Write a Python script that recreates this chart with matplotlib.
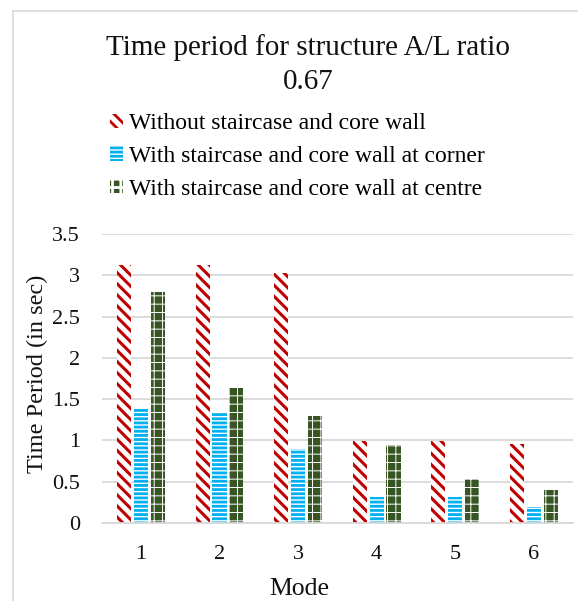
import matplotlib
matplotlib.use("Agg")
import matplotlib.pyplot as plt
from matplotlib.lines import Line2D
import numpy as np

modes = ["1", "2", "3", "4", "5", "6"]
without_core = [3.12, 3.12, 3.03, 0.99, 0.99, 0.96]
core_corner = [1.39, 1.33, 0.90, 0.32, 0.32, 0.19]
core_centre = [2.80, 1.63, 1.30, 0.94, 0.53, 0.40]
series_names = ["Without staircase and core wall",
                "With staircase and core wall at corner",
                "With staircase and core wall at centre"]
y_ticks = [0, 0.5, 1, 1.5, 2, 2.5, 3, 3.5]

plt.rcParams['font.family'] = ['Liberation Serif', 'DejaVu Serif']
plt.rcParams['hatch.linewidth'] = 2.0

W, H = 578, 601
fig = plt.figure(figsize=(W / 100, H / 100), dpi=100)
# axes box in pixels: x 101.7..573, y 234..523 (from top)
ax = fig.add_axes([101.7 / W, 1 - 523 / H, (573 - 101.7) / W, (523 - 234) / H])

x = np.arange(len(modes))
w = 0.18
step = 0.215

b1 = ax.bar(x - step, without_core, w, facecolor='white', edgecolor='#c00000',
            hatch='\\' * 3, linewidth=0, label=series_names[0])
b2 = ax.bar(x, core_corner, w, facecolor='white', edgecolor='#00b0f0',
            hatch='----', linewidth=0, label=series_names[1])
b3 = ax.bar(x + step, core_centre, w, facecolor='#375623', edgecolor='white',
            hatch='++', linewidth=0, label=series_names[2])
for b in b1:
    b.set_hatch_linewidth(2.2)
for b in b2:
    b.set_hatch_linewidth(2.0)
for b in b3:
    b.set_hatch_linewidth(0.7)

ax.set_ylim(0, 3.5)
ax.set_xlim(-0.5, len(modes) - 0.5)
ax.set_yticks(y_ticks)
ax.set_yticklabels([f"{t:g}" for t in y_ticks])
ax.set_xticks(x)
ax.set_xticklabels(modes)
ax.tick_params(length=0, labelsize=16, colors='#111111')
ax.tick_params(axis='x', pad=15.5)
ax.tick_params(axis='y', pad=15.5)
ax.grid(axis='y', color='#d9d9d9', linewidth=1.3)
ax.set_axisbelow(True)
for s in ['top', 'right', 'left']:
    ax.spines[s].set_visible(False)
ax.spines['bottom'].set_color('#d9d9d9')
ax.spines['bottom'].set_linewidth(1.3)

# axis titles
fig.text(37 / W, 1 - 374 / H, "Time Period (in sec)", rotation=90, ha='center',
         va='center', fontsize=17.5, color='#111111')
fig.text(299 / W, 1 - 595 / H, "Mode", ha='center', va='baseline', fontsize=18.5,
         color='#111111')

# chart title (two lines)
fig.text(308 / W, 1 - 55 / H, "Time period for structure A/L ratio", ha='center',
         va='baseline', fontsize=21, color='#111111')
fig.text(308 / W, 1 - 89 / H, "0.67", ha='center', va='baseline', fontsize=21,
         color='#111111')

fig.legend(handles=[b1, b2, b3], loc='upper left', bbox_to_anchor=(110 / W, 1 - 113 / H),
           frameon=False, fontsize=17, handlelength=0.55, handleheight=0.55,
           handletextpad=0.25, labelspacing=0.5, borderpad=0, borderaxespad=0)

# chart area border (left and top edges visible in the crop)
fig.add_artist(Line2D([13 / W, 13 / W], [0, 1 - 11 / H], transform=fig.transFigure,
                      color='#d9d9d9', linewidth=1.2))
fig.add_artist(Line2D([13 / W, 1], [1 - 11 / H, 1 - 11 / H], transform=fig.transFigure,
                      color='#d9d9d9', linewidth=1.2))

fig.savefig("out.png", dpi=100)
